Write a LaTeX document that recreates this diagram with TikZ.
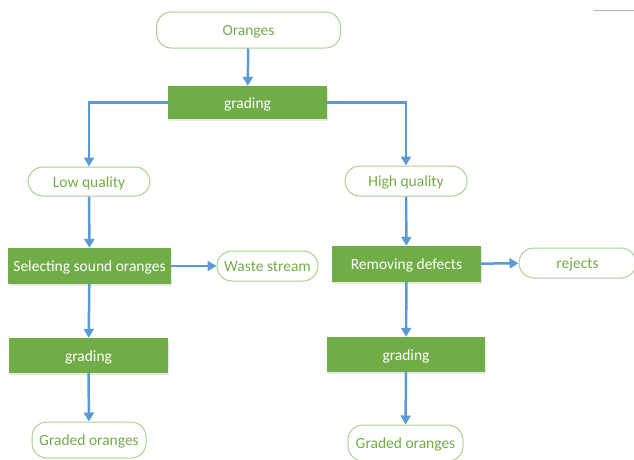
\documentclass[tikz,border=0pt]{standalone}
\usepackage{fontspec}
\setmainfont{Carlito}
\usetikzlibrary{arrows.meta,shadows}
\definecolor{procgreen}{HTML}{70AD47}
\definecolor{termline}{HTML}{A9D18E}
\definecolor{termtext}{HTML}{70AD47}
\definecolor{flowblue}{HTML}{5B9BD5}
\tikzset{
  proc/.style={rectangle, fill=procgreen, text=white, inner sep=0pt,
    text height=14pt, text depth=3pt,
    drop shadow={opacity=0.18, shadow xshift=1pt, shadow yshift=-1.5pt},
    font=\fontsize{15.5}{18}\selectfont},
  term/.style={rectangle, rounded corners=15pt, draw=termline, line width=1pt,
    fill=white, text=termtext, inner sep=0pt,
    text height=14pt, text depth=3pt,
    font=\fontsize{15.5}{18}\selectfont},
  flow/.style={draw=flowblue, line width=2.5pt,
    -{Triangle[width=10pt,length=9pt]}}
}
\begin{document}
\begin{tikzpicture}[x=1pt,y=-1pt]
\useasboundingbox (0,0) rectangle (634,459);

% top of the process
\node[term, minimum width=184pt, minimum height=36pt] (oranges) at (248.5,30) {Oranges};
\node[proc, minimum width=159pt, minimum height=33pt] (g0) at (247.5,102.5) {grading};

% low quality branch
\node[term, minimum width=122pt, minimum height=29pt] (low) at (89,181.5) {Low quality};
\node[proc, minimum width=163pt, minimum height=36pt] (sel) at (89.5,266) {Selecting sound oranges};
\node[term, minimum width=101pt, minimum height=30pt] (waste) at (267.5,266) {Waste stream};
\node[proc, minimum width=159pt, minimum height=35pt] (g1) at (88.5,355.5) {grading};
\node[term, minimum width=114pt, minimum height=36pt] (out1) at (89,440) {Graded oranges};

% high quality branch
\node[term, minimum width=122pt, minimum height=30pt] (high) at (406,181) {High quality};
\node[proc, minimum width=149pt, minimum height=36pt] (rem) at (406.5,264) {Removing defects};
\node[term, minimum width=117pt, minimum height=30pt] (rej) at (577.5,263) {rejects};
\node[proc, minimum width=158pt, minimum height=35pt] (g2) at (406,354.5) {grading};
\node[term, minimum width=115pt, minimum height=36pt] (out2) at (405.5,443) {Graded oranges};

% connectors
\draw[flow] (oranges) -- (g0);
\draw[flow] (g0.west) -| (low.north);
\draw[flow] (g0.east) -| (high.north);
\draw[flow] (low) -- (sel);
\draw[flow] (sel) -- (waste);
\draw[flow] (sel) -- (g1);
\draw[flow] (g1) -- (out1);
\draw[flow] (high) -- (rem);
\draw[flow] (rem) -- (rej);
\draw[flow] (rem) -- (g2);
\draw[flow] (g2) -- (out2);

% short rule in the upper right corner
\coordinate (ruleA) at (594,10);
\coordinate (ruleB) at (634,10);
\draw[black!30, line width=1pt] (ruleA) -- (ruleB);
\end{tikzpicture}
\end{document}
